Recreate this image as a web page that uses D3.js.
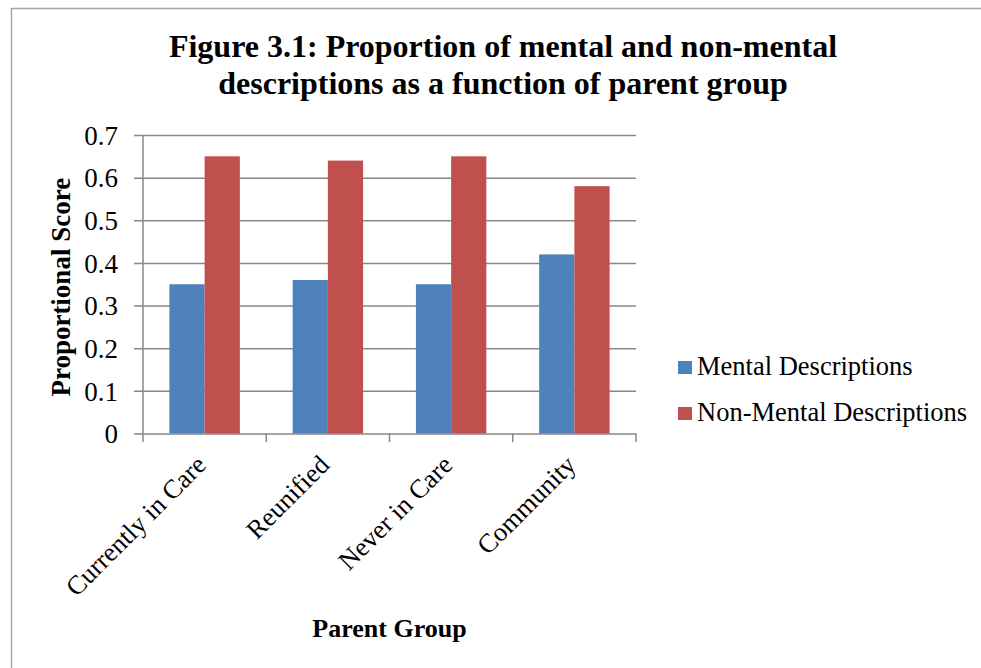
<!DOCTYPE html>
<html>
<head>
<meta charset="utf-8">
<script src="https://cdn.jsdelivr.net/npm/d3@7"></script>
<style>
    body { margin: 0; background: #fff; }
    text { font-family: "Liberation Serif", "Times New Roman", serif; fill: #000; }
</style>
</head>
<body>
<script>
var categories = ["Currently in Care", "Reunified", "Never in Care", "Community"];
var seriesNames = ["Mental Descriptions", "Non-Mental Descriptions"];
var mentalValues = [0.35, 0.36, 0.35, 0.42];
var nonMentalValues = [0.65, 0.64, 0.65, 0.58];
var yTicks = [0, 0.1, 0.2, 0.3, 0.4, 0.5, 0.6, 0.7];
var titleLines = ["Figure 3.1: Proportion of mental and non-mental", "descriptions as a function of parent group"];

var w = 981;
var h = 668;
// plot area edges (plain "top" clashes with window.top)
var plotLeft = 143, plotRight = 636, plotTop = 135, plotBottom = 433.5;

var colors = ["#4F81BD", "#C0504D"];
var gridColor = "#878787";
var labelSize = "26.5px";

var x = d3.scaleBand().domain(categories).range([plotLeft, plotRight]).paddingInner(0).paddingOuter(0);
var xSub = d3.scaleBand().domain(seriesNames).range([0, x.bandwidth()]).paddingInner(0).paddingOuter(0.75);
var y = d3.scaleLinear().domain([0, 0.7]).range([plotBottom, plotTop]);

var svg = d3.select("body")
    .append("svg")
    .attr("width", w)
    .attr("height", h);

var drawFrame = function () {
    svg.append("rect")
        .attr("x", 11.5)
        .attr("y", 8.5)
        .attr("width", w + 20)
        .attr("height", h + 20)
        .style("fill", "none")
        .style("stroke", "#a6a6a6")
        .style("stroke-width", 1.5);
}

var drawTitle = function () {
    svg.append("text")
        .attr("x", 503)
        .attr("y", 57)
        .attr("text-anchor", "middle")
        .style("font-size", "32px")
        .style("font-weight", "bold")
        .selectAll("tspan")
        .data(titleLines)
        .enter()
        .append("tspan")
        .attr("x", 503)
        .attr("dy", (d, i) => { return i == 0 ? 0 : 37 })
        .text((d) => { return d });
}

var drawGrid = function () {
    var grid = svg.append("g")
        .attr("transform", "translate(" + (plotLeft - 9) + ",0)")
        .call(d3.axisRight(y).tickValues(yTicks).tickSize(plotRight - plotLeft + 9).tickFormat(""));
    grid.select(".domain").remove();
    grid.selectAll("line")
        .style("stroke", gridColor)
        .style("stroke-width", 1.5);

    svg.append("line")
        .attr("x1", plotLeft)
        .attr("x2", plotLeft)
        .attr("y1", plotTop)
        .attr("y2", plotBottom + 8.5)
        .style("stroke", gridColor)
        .style("stroke-width", 1.5);

    var bounds = categories.map((c) => { return x(c) + x.bandwidth() });
    svg.selectAll(".cat-tick")
        .data(bounds)
        .enter()
        .append("line")
        .attr("class", "cat-tick")
        .attr("x1", (d) => { return d })
        .attr("x2", (d) => { return d })
        .attr("y1", plotBottom)
        .attr("y2", plotBottom + 8.5)
        .style("stroke", gridColor)
        .style("stroke-width", 1.5);
}

var drawBars = function () {
    var series = [mentalValues, nonMentalValues];
    var groups = svg.selectAll(".group")
        .data(categories)
        .enter()
        .append("g")
        .attr("class", "group")
        .attr("transform", (d) => { return "translate(" + x(d) + ",0)" });

    groups.selectAll("rect")
        .data((d, i) => {
            return seriesNames.map((s, j) => { return { name: s, value: series[j][i], k: j } });
        })
        .enter()
        .append("rect")
        .attr("x", (d) => { return xSub(d.name) })
        .attr("y", (d) => { return y(d.value) })
        .attr("width", xSub.bandwidth())
        .attr("height", (d) => { return plotBottom - y(d.value) })
        .style("fill", (d) => { return colors[d.k] });
}

var drawAxisLabels = function () {
    var yAxis = svg.append("g")
        .attr("transform", "translate(" + (plotLeft - 25) + ",0)")
        .call(d3.axisLeft(y).tickValues(yTicks).tickSize(0).tickPadding(0)
            .tickFormat((d) => { return d == 0 ? "0" : d3.format(".1f")(d) }));
    yAxis.select(".domain").remove();
    yAxis.selectAll("text")
        .attr("dy", "0.34em")
        .style("font-family", "\"Liberation Serif\", \"Times New Roman\", serif")
        .style("font-size", "27px")
        .style("fill", "#000");

    svg.selectAll(".cat-label")
        .data(categories)
        .enter()
        .append("text")
        .attr("class", "cat-label")
        .attr("text-anchor", "end")
        .attr("transform", (d) => {
            return "translate(" + (x(d) + x.bandwidth() / 2 + 3) + "," + (plotBottom + 33) + ") rotate(-45)";
        })
        .style("font-size", labelSize)
        .text((d) => { return d });

    svg.append("text")
        .attr("text-anchor", "middle")
        .attr("transform", "translate(70," + ((plotTop + plotBottom) / 2 + 3) + ") rotate(-90)")
        .style("font-size", "27px")
        .style("font-weight", "bold")
        .text("Proportional Score");

    svg.append("text")
        .attr("x", (plotLeft + plotRight) / 2)
        .attr("y", 637)
        .attr("text-anchor", "middle")
        .style("font-size", "26px")
        .style("font-weight", "bold")
        .text("Parent Group");
}

var drawLegend = function () {
    var legend = svg.selectAll(".legend")
        .data(seriesNames)
        .enter()
        .append("g")
        .attr("class", "legend")
        .attr("transform", (d, i) => { return "translate(678," + (361 + i * 46) + ")" });

    legend.append("rect")
        .attr("width", 14)
        .attr("height", 13)
        .style("fill", (d, i) => { return colors[i] });

    legend.append("text")
        .attr("x", 19)
        .attr("y", 14)
        .style("font-size", labelSize)
        .text((d) => { return d });
}

drawFrame();
drawTitle();
drawGrid();
drawBars();
drawAxisLabels();
drawLegend();
</script>
</body>
</html>
